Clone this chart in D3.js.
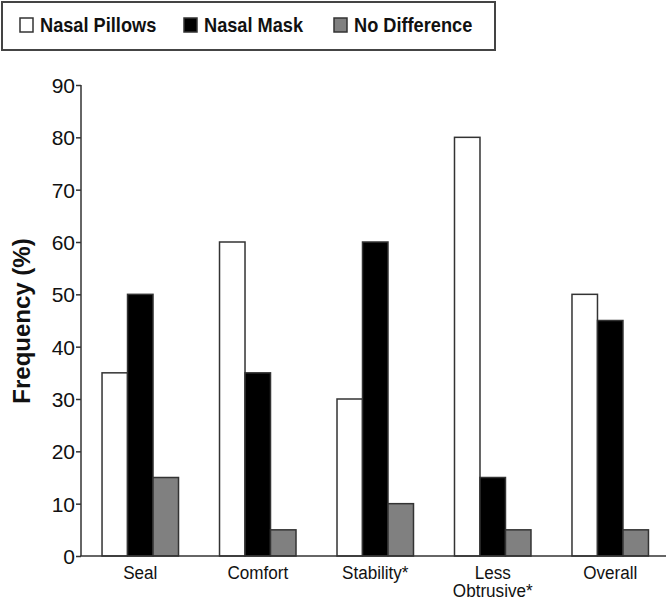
<!DOCTYPE html>
<html><head><meta charset="utf-8">
<script src="https://cdn.jsdelivr.net/npm/d3@7"></script>
<style>
body{margin:0;background:#fff;}
svg{display:block;}
text{font-family:"Liberation Sans",Arial,sans-serif;}
</style></head>
<body><svg id="c" width="666" height="601"></svg>
<script>
const categories = ["Seal","Comfort","Stability*","Less Obtrusive*","Overall"];
const categoryLines = [["Seal"],["Comfort"],["Stability*"],["Less","Obtrusive*"],["Overall"]];
const seriesNames = ["Nasal Pillows","Nasal Mask","No Difference"];
const nasalPillows = [35,60,30,80,50];
const nasalMask = [50,35,60,15,45];
const noDifference = [15,5,10,5,5];
const yTicks = [0,10,20,30,40,50,60,70,80,90];
const colors = ["#ffffff","#000000","#808080"];

const series = [nasalPillows, nasalMask, noDifference];
const svg = d3.select("#c");

const y = d3.scaleLinear().domain([0,90]).range([556,85]);
const x0 = d3.scaleBand().domain(categories).range([81,669.5]).paddingInner(0.349).paddingOuter(0.179);
const x1 = d3.scaleBand().domain(seriesNames).range([0,x0.bandwidth()]);

// bars
const g = svg.append("g");
categories.forEach((c,i)=>{
  seriesNames.forEach((s,j)=>{
    g.append("rect")
      .attr("x", x0(c)+x1(s))
      .attr("y", y(series[j][i]))
      .attr("width", x1.bandwidth())
      .attr("height", y(0)-y(series[j][i]))
      .attr("fill", colors[j])
      .attr("stroke", "#333")
      .attr("stroke-width", 1.5);
  });
});

// y axis
const yAxis = d3.axisLeft(y).tickValues(yTicks).tickSize(5).tickPadding(1);
const ya = svg.append("g").attr("transform","translate(81,0)").call(yAxis);
ya.select(".domain").attr("stroke","#333").attr("stroke-width",1.5).attr("d","M0,85V556");
ya.selectAll(".tick line").attr("stroke","#333").attr("stroke-width",1.5);
ya.selectAll(".tick text").attr("font-family","'Liberation Sans',Arial,sans-serif")
  .attr("font-size",21).attr("fill","#111").attr("dy","0.36em");

// x axis line
svg.append("line").attr("x1",80.25).attr("x2",666).attr("y1",556).attr("y2",556)
  .attr("stroke","#333").attr("stroke-width",1.5);

// x labels (condensed)
categories.forEach((c,i)=>{
  const cx = x0(c)+x0.bandwidth()/2;
  categoryLines[i].forEach((ln,k)=>{
    svg.append("text")
      .attr("transform",`translate(${cx},${579 + k*18}) scale(0.9,1)`)
      .attr("text-anchor","middle").attr("font-size",19).attr("fill","#111")
      .text(ln);
  });
});

// y title
svg.append("text")
  .attr("transform","translate(30,321) rotate(-90)")
  .attr("text-anchor","middle")
  .attr("font-weight","bold").attr("font-size",24).attr("fill","#111")
  .text("Frequency (%)");

// legend
svg.append("rect").attr("x",2).attr("y",2).attr("width",493).attr("height",48)
  .attr("fill","#fff").attr("stroke","#444").attr("stroke-width",2);
const legendX = [19,183,333];
seriesNames.forEach((s,j)=>{
  svg.append("rect").attr("x",legendX[j]+1).attr("y",18).attr("width",13).attr("height",14)
    .attr("fill",colors[j]).attr("stroke","#333").attr("stroke-width",1.5);
  svg.append("text")
    .attr("transform",`translate(${legendX[j]+21},32) scale(0.91,1)`)
    .attr("font-weight","bold").attr("font-size",20).attr("fill","#111")
    .text(s);
});
</script></body></html>
